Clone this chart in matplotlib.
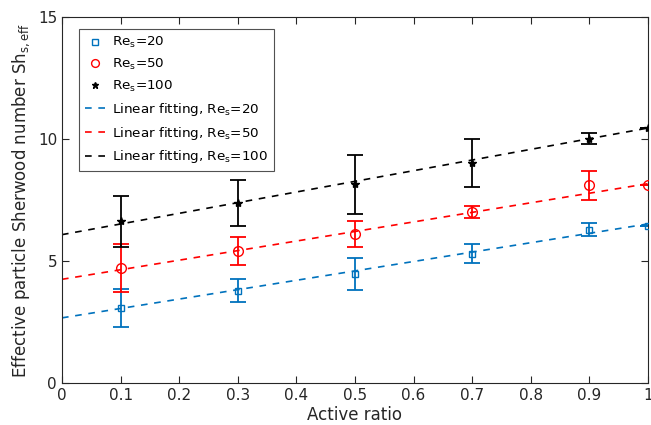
import matplotlib
matplotlib.use('Agg')
import matplotlib.pyplot as plt
import numpy as np

ratio = [0.1, 0.3, 0.5, 0.7, 0.9, 1.0]

sh_20 = [3.08, 3.79, 4.48, 5.30, 6.29, 6.45]
err_20 = [0.78, 0.47, 0.65, 0.40, 0.26, 0.0]
sh_50 = [4.71, 5.42, 6.12, 7.00, 8.10, 8.10]
err_50 = [0.97, 0.58, 0.53, 0.24, 0.60, 0.0]
sh_100 = [6.63, 7.38, 8.14, 9.03, 10.02, 10.44]
err_100 = [1.05, 0.95, 1.20, 0.98, 0.21, 0.0]

# linear fits: (intercept, slope)
fit_20 = (2.67, 3.85)
fit_50 = (4.25, 3.92)
fit_100 = (6.08, 4.37)

blue = '#0072BD'
red = '#FF0000'
black = '#000000'


def main():
    plt.rcParams['font.family'] = 'DejaVu Sans'
    fig = plt.figure(figsize=(6.51, 4.25), dpi=100)
    ax = fig.add_axes([0.0952, 0.0988, 0.9002, 0.8612])

    series = [
        (sh_20, err_20, blue, 's', 'Re$_\\mathrm{s}$=20', 5),
        (sh_50, err_50, red, 'o', 'Re$_\\mathrm{s}$=50', 7),
        (sh_100, err_100, black, '*', 'Re$_\\mathrm{s}$=100', 6),
    ]
    for y, e, c, m, lab, ms in series:
        ax.errorbar(ratio, y, yerr=e, fmt='none', ecolor=c, elinewidth=1.3,
                    capsize=6, capthick=1.3, zorder=2)
        ax.plot(ratio, y, linestyle='none', marker=m, color=c,
                markerfacecolor='none' if m != '*' else c, markersize=ms,
                markeredgewidth=1.0, label=lab, zorder=3)

    xs = np.array([0.0, 1.0])
    fits = [(fit_20, blue, '20'), (fit_50, red, '50'), (fit_100, black, '100')]
    for (b, k), c, re in fits:
        ax.plot(xs, b + k * xs, '--', color=c, linewidth=1.2, dashes=(4, 4),
                label='Linear fitting, Re$_\\mathrm{s}$=' + re, zorder=1)

    ax.set_xlim(0, 1)
    ax.set_ylim(0, 15)
    ax.set_xticks(np.arange(0, 1.01, 0.1))
    ax.set_xticklabels(['0', '0.1', '0.2', '0.3', '0.4', '0.5', '0.6',
                        '0.7', '0.8', '0.9', '1'])
    ax.set_yticks([0, 5, 10, 15])
    ax.tick_params(direction='in', top=True, right=True, labelsize=11,
                   colors='#262626', length=5)
    for s in ax.spines.values():
        s.set_color('#262626')
        s.set_linewidth(0.8)

    ax.set_xlabel('Active ratio', fontsize=12, color='#262626', labelpad=2)
    ax.set_ylabel('Effective particle Sherwood number Sh$_\\mathrm{s,eff}$',
                  fontsize=12, color='#262626', labelpad=4)

    leg = ax.legend(loc='upper left', bbox_to_anchor=(0.018, 0.985),
                    fontsize=9.7, frameon=True, fancybox=False,
                    handlelength=1.5, handletextpad=0.5, borderpad=0.45,
                    labelspacing=0.5, markerscale=0.8)
    leg.get_frame().set_edgecolor('#262626')
    leg.get_frame().set_linewidth(0.8)

    fig.savefig('out.png', dpi=100)


if __name__ == '__main__':
    main()
